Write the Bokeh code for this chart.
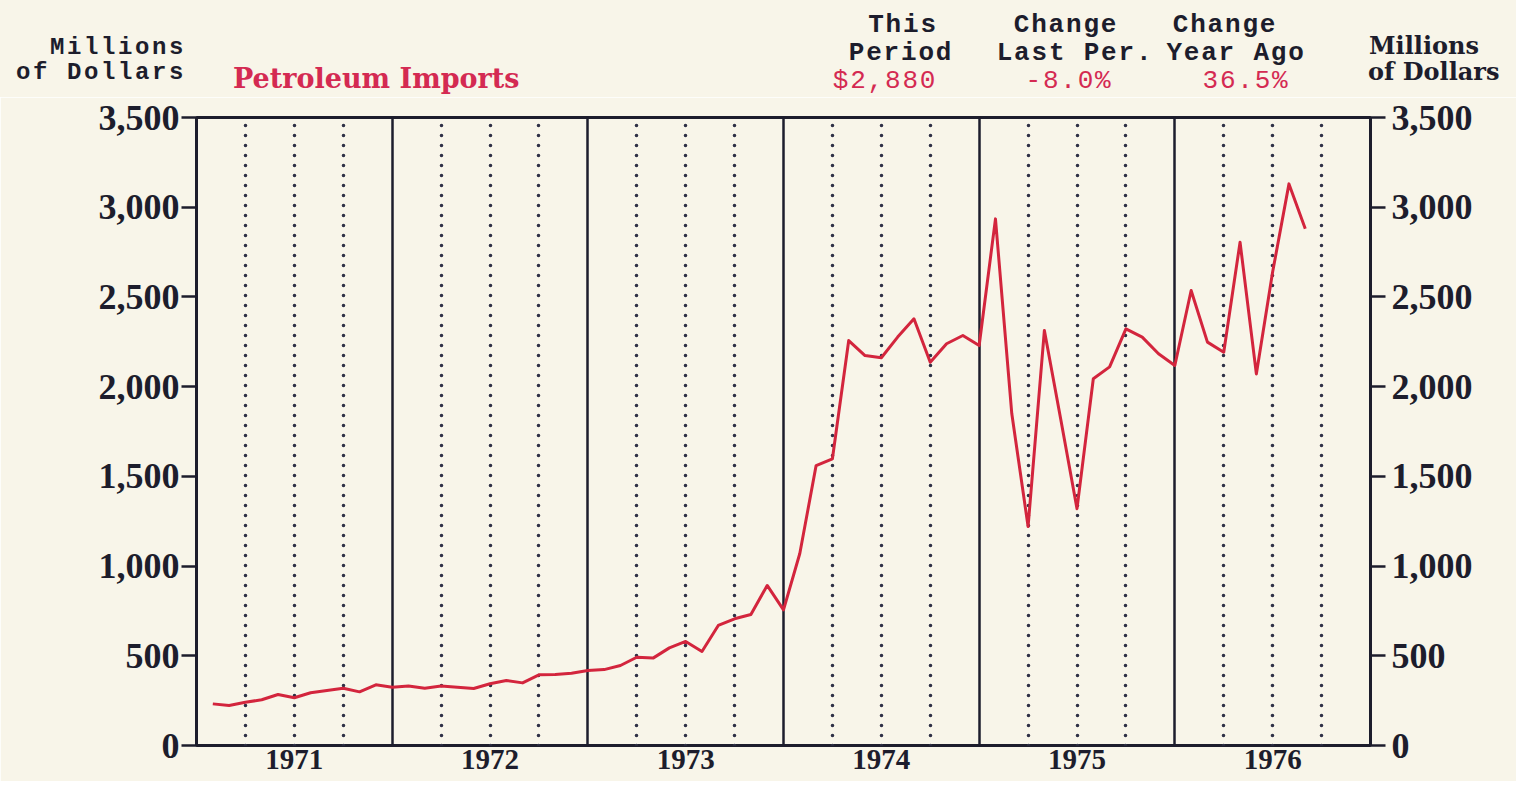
from bokeh.plotting import figure
from bokeh.layouts import column
from bokeh.models import Range1d, LinearAxis, FixedTicker, Grid, NumeralTickFormatter, Div
from bokeh.embed import file_html
from bokeh.resources import INLINE

# ---- data (millions of dollars, monthly) ----
years = [1971, 1972, 1973, 1974, 1975, 1976]
year_labels = ["1971", "1972", "1973", "1974", "1975", "1976"]
v1971 = [232, 223, 241, 255, 284, 266, 294, 306, 319, 299, 338, 325]
v1972 = [331, 319, 331, 325, 318, 344, 362, 349, 394, 396, 403, 418]
v1973 = [423, 446, 492, 487, 544, 580, 524, 669, 706, 730, 892, 756]
v1974 = [1070, 1560, 1598, 2257, 2173, 2161, 2276, 2378, 2136, 2239, 2285, 2229]
v1975 = [2935, 1850, 1220, 2313, 1820, 1320, 2044, 2110, 2322, 2276, 2183, 2118]
v1976 = [2536, 2248, 2192, 2805, 2071, 2640, 3130, 2880]
y_ticks = [0, 500, 1000, 1500, 2000, 2500, 3000, 3500]
title = "Petroleum Imports"
unit_lines = ["Millions", "of Dollars"]
col_heads = [["This", "Period"], ["Change", "Last Per."], ["Change", "Year Ago"]]
col_values = ["$2,880", "-8.0%", "36.5%"]

series = [v1971, v1972, v1973, v1974, v1975, v1976]
xs, ys = [], []
for yr, vals in zip(years, series):
    for m, v in enumerate(vals, start=1):
        xs.append(yr + m / 12.0)
        ys.append(v)

BG = "#f8f5e9"
DARK = "#1d1d2c"
DOT = "#2f3046"
RED = "#d3253d"
RED_T = "#d42a52"
W = 1516
HEAD_H = 97

# ---------------- header strip (HTML text, absolutely positioned) ----------------
MONO = "'Liberation Mono', monospace"
SERIF = "'DejaVu Serif', serif"
ASC = {MONO: 0.767, SERIF: 0.846}   # baseline offset for line-height 1

def span(text, x, baseline, align, family, size, color, weight="bold", ls=0.0):
    top = baseline - ASC[family] * size
    if align == "right":
        pos = "right:%dpx;" % (W - x)
    elif align == "center":
        pos = "left:%dpx;transform:translateX(-50%%);" % x
    else:
        pos = "left:%dpx;" % x
    return ('<span style="position:absolute;%stop:%.1fpx;font-family:%s;font-size:%dpx;'
            'font-weight:%s;color:%s;line-height:1;letter-spacing:%.1fpx;white-space:pre;">%s</span>'
            % (pos, top, family, size, weight, color, ls, text))

parts = []
parts.append(span(unit_lines[0], 186, 54, "right", MONO, 24, DARK, ls=2.6))
parts.append(span(unit_lines[1], 186, 79, "right", MONO, 24, DARK, ls=2.6))
parts.append(span(title, 233, 88, "left", SERIF, 27, RED_T))
for (l1, l2), v, c1, c2, c3 in zip(col_heads, col_values,
                                   [903, 1066, 1225], [901, 1075, 1236], [885, 1069, 1246]):
    parts.append(span(l1, c1, 32, "center", MONO, 26, DARK, ls=1.8))
    parts.append(span(l2, c2, 60, "center", MONO, 26, DARK, ls=1.8))
    parts.append(span(v, c3, 88, "center", MONO, 26, RED_T, "normal", ls=1.8))
parts.append(span(unit_lines[0], 1369, 54, "left", SERIF, 24, DARK))
parts.append(span(unit_lines[1], 1368, 80, "left", SERIF, 24, DARK))

html = ('<div style="position:relative;width:%dpx;height:%dpx;background:%s;overflow:hidden;">%s</div>'
        % (W, HEAD_H, BG, "".join(parts)))
head = Div(text=html, width=W, height=HEAD_H, margin=0)

# ---------------- main chart ----------------
X0, X1 = 1971, 1977
TOP = 117 - HEAD_H
p = figure(width=W, height=781 - HEAD_H, output_backend="svg", toolbar_location=None,
           x_range=Range1d(X0, X1), y_range=Range1d(0, 3500),
           min_border_left=196, min_border_right=W - 1370, min_border_top=TOP,
           min_border_bottom=36,
           background_fill_color=BG, border_fill_color=BG,
           outline_line_color=DARK, outline_line_width=3)

p.xaxis.ticker = FixedTicker(ticks=[y + 0.5 for y in years])
p.xaxis.major_label_overrides = {y + 0.5: lab for y, lab in zip(years, year_labels)}
p.xaxis.major_tick_line_color = None
p.xaxis.minor_tick_line_color = None
p.xaxis.axis_line_color = None
p.xaxis.major_tick_out = 0
p.xaxis.major_tick_in = 0
p.xaxis.major_label_standoff = 4
p.xaxis.major_label_text_font = "Liberation Serif"
p.xaxis.major_label_text_font_style = "bold"
p.xaxis.major_label_text_font_size = "29px"
p.xaxis.major_label_text_color = DARK

def style_y(ax, standoff):
    ax.ticker = FixedTicker(ticks=y_ticks)
    ax.formatter = NumeralTickFormatter(format="0,0")
    ax.major_tick_out = 15
    ax.major_tick_in = 0
    ax.major_tick_line_width = 2.5
    ax.major_tick_line_color = DARK
    ax.minor_tick_line_color = None
    ax.axis_line_color = DARK
    ax.axis_line_width = 2.5
    ax.major_label_standoff = standoff
    ax.major_label_text_font = "Liberation Serif"
    ax.major_label_text_font_style = "bold"
    ax.major_label_text_font_size = "36px"
    ax.major_label_text_color = DARK

style_y(p.yaxis[0], 2)
ry = LinearAxis()
style_y(ry, 6)
p.add_layout(ry, "right")

p.ygrid.visible = False
p.xgrid.ticker = FixedTicker(ticks=list(range(X0, X1 + 1)))
p.xgrid.grid_line_color = DARK
p.xgrid.grid_line_width = 2.5
qticks = [y + q / 4.0 for y in years for q in (1, 2, 3)]
qgrid = Grid(dimension=0, ticker=FixedTicker(ticks=qticks), grid_line_color=DOT,
             grid_line_width=3.6, grid_line_dash="0 10", grid_line_cap="round")
p.add_layout(qgrid)

p.line(xs, ys, line_color=RED, line_width=3, line_join="round")

layout = column(head, p, spacing=0)
open("out.html", "w").write(file_html(layout, INLINE))
